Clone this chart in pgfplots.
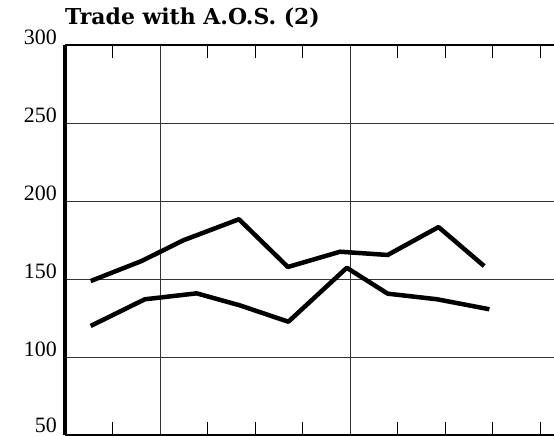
\documentclass[border=0pt]{standalone}
\usepackage{fontspec}
\setmainfont{Liberation Serif}
\newfontfamily\titlefont{DejaVu Serif}
\usepackage{pgfplots}
\pgfplotsset{compat=1.18}
\usetikzlibrary{calc}

\begin{document}
\begin{tikzpicture}
\begin{axis}[name=ax, scale only axis, width=489bp, height=390bp,
 xmin=0, xmax=10.29, ymin=50, ymax=300,
 axis line style={draw=none},
 xtick={1,...,10}, xticklabels={}, xtick pos=both, tick align=inside,
 major tick length=13bp, xtick style={black, line width=0.8bp},
 ytick={50,100,...,300},
 yticklabels={\raisebox{4bp}{50},100,150,200,250,300},
 ytick style={draw=none},
 ymajorgrids, grid style={black!80, line width=0.9bp},
 yticklabel style={font=\fontsize{22}{22}\selectfont, inner sep=0pt, xshift=-8bp, yshift=8bp},
 title={\titlefont\bfseries\fontsize{22}{22}\selectfont Trade with A.O.S. (2)},
 title style={anchor=base west, at={(axis description cs:0,1.036)}, inner sep=0pt},
 clip=false]
 \draw[line width=0.8bp, black!80] (axis cs:2,50) -- (axis cs:2,300);
 \draw[line width=0.8bp, black!80] (axis cs:6,50) -- (axis cs:6,300);
 \draw[line width=4bp] (rel axis cs:0,0) -- (rel axis cs:0,1);
 \draw[line width=2.5bp] (rel axis cs:0,0) -- (rel axis cs:1,0);
 \draw[line width=1.2bp] (rel axis cs:0,1) -- (rel axis cs:1,1);
 \addplot[line width=4.5bp, line join=round, black] coordinates {
  (0.54,148.7) (1.61,161.5) (2.49,174.8) (3.66,188.3) (4.69,157.7)
  (5.79,167.5) (6.79,165.4) (7.86,183.3) (8.82,158.3)};
 \addplot[line width=4.5bp, line join=round, black] coordinates {
  (0.54,119.9) (1.68,137.0) (2.77,140.8) (3.68,133.1) (4.70,122.6)
  (5.93,157.2) (6.79,140.6) (7.83,137.0) (8.93,130.6)};
\end{axis}
\pgfresetboundingbox
\useasboundingbox ($(ax.south west)+(-65bp,-1bp)$) rectangle ($(ax.south west)+(489bp,435bp)$);
\end{tikzpicture}
\end{document}
